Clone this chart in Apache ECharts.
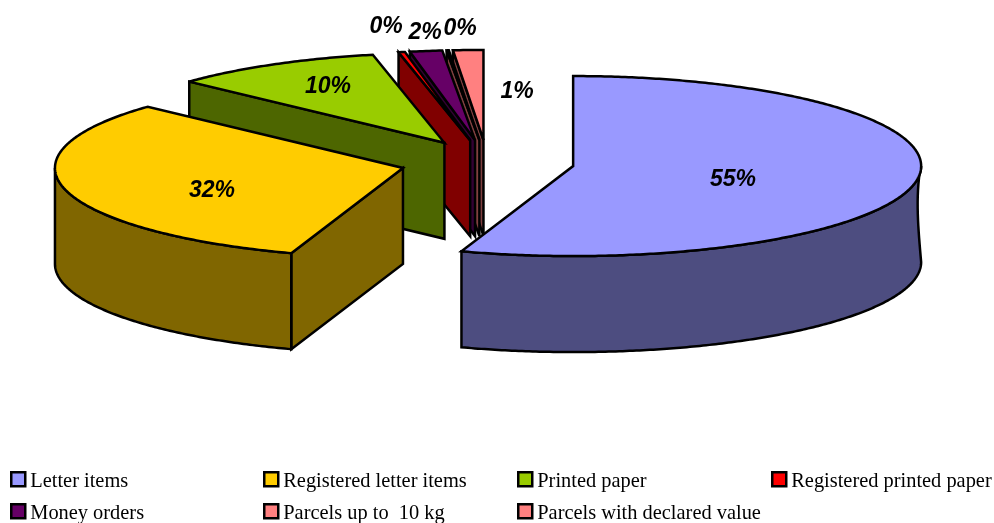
<!DOCTYPE html>
<html>
<head>
<meta charset="utf-8">
<style>html,body{margin:0;padding:0;background:#fff}#chart{width:994px;height:523px}</style>
<script src="https://cdn.jsdelivr.net/npm/echarts@6/dist/echarts.min.js"></script>
</head>
<body>
<div id="chart"></div>
<script>
// Share of postal traffic by item type, in percent
const categories = ['Letter items', 'Registered letter items', 'Printed paper', 'Registered printed paper',
  'Money orders', 'Parcels up to  10 kg', 'Parcels with declared value'];
const shares = [55.2, 31.7, 9.8, 0.3, 1.5, 0.1, 1.4];
const topColors = ['#9999FF', '#FFCC00', '#99CC00', '#FF0000', '#660066', '#FF8080', '#FF8080'];
const sideColors = ['#4D4D80', '#806600', '#4D6600', '#800000', '#330033', '#804040', '#804040'];

// Projected pie geometry
const pie = { cx: 487.3, cy: 162.4, rx: 348, ry: 90, depth: 96, explode: 0.25, waist: 3.5 };
const INK = '#000';
const STROKE = 2.5;

// Label centres, in page pixels
const labelCentres = [[733, 180], [212, 191], [328, 87], [386, 27], [425, 33], [460, 29], [517, 92]];
// Legend slots: swatch left, swatch top
const legendSlots = [[10, 471], [263, 471], [517, 471], [771, 471], [10, 503], [263, 503], [517, 503]];

const total = shares.reduce((a, b) => a + b, 0);
const startAngles = [];
shares.reduce((acc, v, i) => { startAngles[i] = acc; return acc + v; }, 0);
const toRad = (share) => share / total * Math.PI * 2;

function rimPoint(apex, angle, drop) {
  return [apex[0] + pie.rx * Math.sin(angle), apex[1] - pie.ry * Math.cos(angle) + drop];
}

function arcPoints(apex, from, to, drop) {
  const steps = Math.max(2, Math.ceil(Math.abs(to - from) / 0.01));
  const pts = [];
  for (let k = 0; k <= steps; k++) pts.push(rimPoint(apex, from + (to - from) * k / steps, drop));
  return pts;
}

function face(points, fill) {
  return {
    type: 'polygon',
    shape: { points },
    style: { fill, stroke: INK, lineWidth: STROKE, lineJoin: 'miter', miterLimit: 4 }
  };
}

// Right-hand silhouette of the wall bows slightly inward between rim and base
function waistPoints(top, bottom) {
  const pts = [];
  for (let k = 1; k < 16; k++) {
    const t = k / 16;
    pts.push([top[0] - pie.waist * Math.sin(Math.PI * Math.pow(t, 0.75)), top[1] + (bottom[1] - top[1]) * t]);
  }
  return pts;
}

function sliceGroup(index, value) {
  const a0 = toRad(startAngles[index]);
  const a1 = a0 + toRad(value);
  const mid = (a0 + a1) / 2;
  const apex = [
    pie.cx + pie.explode * pie.rx * Math.sin(mid),
    pie.cy - pie.explode * pie.ry * Math.cos(mid)
  ];
  const lowApex = [apex[0], apex[1] + pie.depth];
  const children = [];
  const side = sideColors[index];

  // Radial wall on the leading edge faces the viewer in the left half of the pie
  if (Math.sin(a0) < 0) {
    children.push(face([apex, rimPoint(apex, a0, 0), rimPoint(apex, a0, pie.depth), lowApex], side));
  }
  // Trailing radial wall faces the viewer in the right half
  if (Math.sin(a1) > 0) {
    children.push(face([apex, rimPoint(apex, a1, 0), rimPoint(apex, a1, pie.depth), lowApex], side));
  }
  // Curved outer wall, only where the rim is on the near side
  const w0 = Math.max(a0, Math.PI / 2);
  const w1 = Math.min(a1, Math.PI * 1.5);
  if (w1 > w0) {
    const upper = arcPoints(apex, w0, w1, 0);
    const lower = arcPoints(apex, w0, w1, pie.depth).reverse();
    const edge = w0 === Math.PI / 2 ? waistPoints(upper[0], lower[lower.length - 1]).reverse() : [];
    children.push(face(upper.concat(lower, edge), side));
  }
  // Top face
  children.push(face([apex].concat(arcPoints(apex, a0, a1, 0)), topColors[index]));

  const [lx, ly] = labelCentres[index];
  children.push({
    type: 'text',
    style: {
      text: Math.round(value) + '%',
      x: lx, y: ly, align: 'center', verticalAlign: 'middle',
      fontFamily: '"Liberation Sans", Arial, sans-serif',
      fontSize: 23, fontWeight: 'bold', fontStyle: 'italic', fill: '#000'
    }
  });
  return { type: 'group', children };
}

const series = categories.map((name, i) => ({
  type: 'custom',
  name,
  coordinateSystem: 'none',
  z: 10 + categories.length - i,
  animation: false,
  silent: true,
  itemStyle: { color: topColors[i], borderColor: INK, borderWidth: 2.5 },
  data: [[shares[i]]],
  renderItem: (params, api) => sliceGroup(i, api.value(0))
}));

const legendFont = { fontFamily: '"Liberation Serif", "Times New Roman", serif', fontSize: 20.4, color: '#000' };
const legend = categories.map((name, i) => ({
  left: legendSlots[i][0],
  top: legendSlots[i][1],
  padding: 0,
  orient: 'horizontal',
  selectedMode: false,
  itemWidth: 14,
  itemHeight: 14,
  icon: 'rect',
  itemStyle: { color: topColors[i], borderColor: INK, borderWidth: 2.5 },
  formatter: (n) => '{t|' + n + '}',
  textStyle: Object.assign({}, legendFont, { rich: { t: Object.assign({}, legendFont, { padding: [5, 0, 0, 0] }) } }),
  data: [name]
}));

const chart = echarts.init(document.getElementById('chart'), null, { renderer: 'canvas' });
chart.setOption({ animation: false, backgroundColor: '#fff', legend, series });
</script>
</body>
</html>
